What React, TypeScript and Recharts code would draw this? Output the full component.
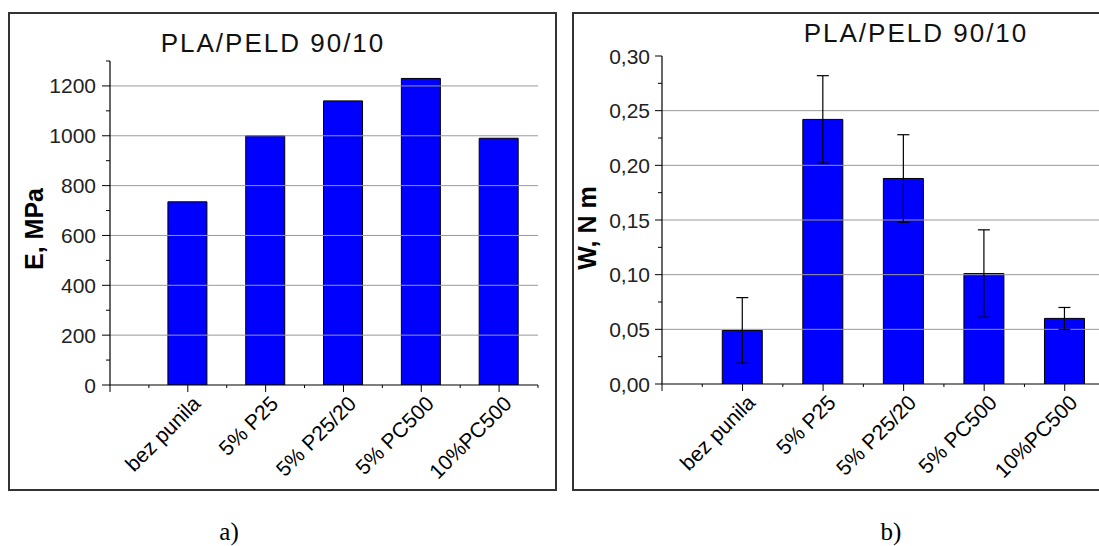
import React from "react";
import { BarChart, Bar, XAxis, YAxis, ReferenceLine, ErrorBar } from "recharts";

const categories = ["bez punila", "5% P25", "5% P25/20", "5% PC500", "10%PC500"];
const positions = [1, 2, 3, 4, 5];
const modulusValues = [735, 1000, 1140, 1230, 990];
const workValues = [0.049, 0.242, 0.188, 0.101, 0.06];
const workErrors = [0.03, 0.04, 0.04, 0.04, 0.01];

const xTicks = [0, 0.5, 1, 1.5, 2, 2.5, 3, 3.5, 4, 4.5, 5, 5.5];
const leftYTicks = [0, 100, 200, 300, 400, 500, 600, 700, 800, 900, 1000, 1100, 1200, 1300];
const leftGrid = [200, 400, 600, 800, 1000, 1200];
const rightYTicks = [0, 0.025, 0.05, 0.075, 0.1, 0.125, 0.15, 0.175, 0.2, 0.225, 0.25, 0.275, 0.3];
const rightGrid = [0.05, 0.1, 0.15, 0.2, 0.25];

const title = "PLA/PELD 90/10";

const FONT = "'Liberation Sans', Arial, sans-serif";

const leftData = positions.map((p, i) => ({ pos: p, name: categories[i], value: modulusValues[i] }));
const rightData = positions.map((p, i) => ({ pos: p, name: categories[i], value: workValues[i], err: workErrors[i] }));

const XTick = (props: any) => {
  const { x, y, payload } = props;
  const v = payload.value as number;
  const major = Number.isInteger(v);
  const label = major && v >= 1 && v <= 5 ? categories[v - 1] : null;
  return (
    <g>
      <line x1={x} x2={x} y1={y} y2={y + (major ? 7 : 3)} stroke="#000" strokeWidth={1} />
      {label && (
        <text
          transform={`translate(${x + 14},${y + 20}) rotate(-45)`}
          textAnchor="end"
          fontSize={21}
          fontFamily={FONT}
          fill="#000"
        >
          {label}
        </text>
      )}
    </g>
  );
};

const LeftYTick = (props: any) => {
  const { x, y, payload } = props;
  const v = payload.value as number;
  const major = v % 200 === 0;
  return (
    <g>
      <line x1={x} x2={x - (major ? 8 : 4)} y1={y} y2={y} stroke="#000" strokeWidth={1} />
      {major && v <= 1200 && (
        <text x={x - 14} y={y} dy="0.36em" textAnchor="end" fontSize={21} fontFamily={FONT} fill="#222">
          {v}
        </text>
      )}
    </g>
  );
};

const RightYTick = (props: any) => {
  const { x, y, payload } = props;
  const v = payload.value as number;
  const major = Math.round(v * 1000) % 50 === 0;
  return (
    <g>
      <line x1={x} x2={x - (major ? 7 : 4)} y1={y} y2={y} stroke="#000" strokeWidth={1} />
      {major && (
        <text x={x - 12} y={y} dy="0.36em" textAnchor="end" fontSize={21} fontFamily={FONT} fill="#222">
          {v.toFixed(2).replace(".", ",")}
        </text>
      )}
    </g>
  );
};

export default function App() {
  return (
    <div
      style={{
        position: "absolute",
        left: 0,
        top: 0,
        width: 1099,
        height: 546,
        overflow: "hidden",
        background: "#fff",
      }}
    >
      <svg width={1099} height={546} style={{ position: "absolute", left: 0, top: 0 }}>
        <rect x={9} y={13} width={547} height={477} fill="none" stroke="#333" strokeWidth={2} />
        <rect x={573} y={13} width={560} height={477} fill="none" stroke="#333" strokeWidth={2} />
        <text x={273} y={52} textAnchor="middle" fontSize={26} letterSpacing={2} fontFamily={FONT} fill="#111">
          {title}
        </text>
        <text x={916} y={42} textAnchor="middle" fontSize={26} letterSpacing={2} fontFamily={FONT} fill="#111">
          {title}
        </text>
        <text
          transform="translate(43,229) rotate(-90)"
          textAnchor="middle"
          fontSize={25}
          fontWeight="bold"
          fontFamily={FONT}
          fill="#000"
        >
          E, MPa
        </text>
        <text
          transform="translate(596,228) rotate(-90)"
          textAnchor="middle"
          fontSize={25}
          fontWeight="bold"
          fontFamily={FONT}
          fill="#000"
        >
          W, N m
        </text>
        <text x={229} y={540} textAnchor="middle" fontSize={25} fontFamily="'Liberation Serif', 'Times New Roman', serif" fill="#000">
          a)
        </text>
        <text x={891} y={540} textAnchor="middle" fontSize={25} fontFamily="'Liberation Serif', 'Times New Roman', serif" fill="#000">
          b)
        </text>
      </svg>

      <div style={{ position: "absolute", left: 0, top: 0 }}>
        <BarChart width={560} height={500} data={leftData} margin={{ top: 61, right: 22, bottom: 15, left: 50 }}>
          <XAxis
            dataKey="pos"
            type="number"
            domain={[0, 5.5]}
            allowDataOverflow
            ticks={xTicks}
            interval={0}
            height={100}
            tickSize={0}
            tickMargin={0}
            tickLine={false}
            tick={<XTick />}
            axisLine={{ stroke: "#000", strokeWidth: 1.2 }}
          />
          <YAxis
            type="number"
            domain={[0, 1300]}
            allowDataOverflow
            ticks={leftYTicks}
            interval={0}
            width={60}
            tickSize={0}
            tickMargin={0}
            tickLine={false}
            tick={<LeftYTick />}
            axisLine={{ stroke: "#000", strokeWidth: 1.2 }}
          />
          {leftGrid.map((g) => (
            <ReferenceLine key={g} y={g} stroke="#999" strokeWidth={1} />
          ))}
          <Bar dataKey="value" fill="#0000ff" stroke="#000" strokeWidth={1} barSize={39} isAnimationActive={false} />
        </BarChart>
      </div>

      <div style={{ position: "absolute", left: 560, top: 0 }}>
        <BarChart width={560} height={500} data={rightData} margin={{ top: 56, right: 15, bottom: 16, left: 42 }}>
          <XAxis
            dataKey="pos"
            type="number"
            domain={[0, 5.5]}
            allowDataOverflow
            ticks={xTicks}
            interval={0}
            height={100}
            tickSize={0}
            tickMargin={0}
            tickLine={false}
            tick={<XTick />}
            axisLine={{ stroke: "#000", strokeWidth: 1.2 }}
          />
          <YAxis
            type="number"
            domain={[0, 0.3]}
            allowDataOverflow
            ticks={rightYTicks}
            interval={0}
            width={60}
            tickSize={0}
            tickMargin={0}
            tickLine={false}
            tick={<RightYTick />}
            axisLine={{ stroke: "#000", strokeWidth: 1.2 }}
          />
          {rightGrid.map((g) => (
            <ReferenceLine key={g} y={g} stroke="#999" strokeWidth={1} />
          ))}
          <Bar dataKey="value" fill="#0000ff" stroke="#000" strokeWidth={1} barSize={40} isAnimationActive={false}>
            <ErrorBar dataKey="err" width={6} stroke="#000" strokeWidth={1.2} direction="y" />
          </Bar>
        </BarChart>
      </div>
    </div>
  );
}
